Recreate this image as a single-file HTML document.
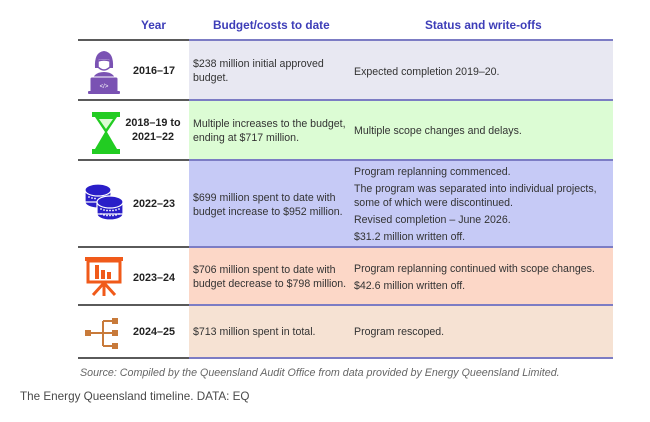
<!DOCTYPE html>
<html><head><meta charset="utf-8">
<style>
html,body{margin:0;padding:0;background:#fff;}
body{width:650px;height:422px;position:relative;overflow:hidden;font-family:"Liberation Sans",Arial,sans-serif;}
.a{position:absolute;white-space:nowrap;}
.h{font-weight:bold;font-size:11.8px;color:#3d3db8;}
.y{font-weight:bold;font-size:10.8px;color:#222;text-align:center;line-height:14px;}
.t{font-size:10.6px;color:#333;line-height:14px;}
.bg{position:absolute;left:189px;width:424px;}
.ll{position:absolute;left:78px;width:111px;height:2px;background:#5a5a5a;}
.lr{position:absolute;left:189px;width:424px;height:2px;background:#7c7cc4;}
</style></head><body>
<div class="a h" style="left:141px;top:18px;">Year</div>
<div class="a h" style="left:213px;top:18px;">Budget/costs to date</div>
<div class="a h" style="left:425px;top:18px;">Status and write-offs</div>

<div class="bg" style="top:40px;height:60px;background:#e8e8f2;"></div>
<div class="bg" style="top:100px;height:60px;background:#dcfcd4;"></div>
<div class="bg" style="top:160px;height:87px;background:#c6caf6;"></div>
<div class="bg" style="top:247px;height:58px;background:#fcd7c7;"></div>
<div class="bg" style="top:305px;height:53px;background:#f6e2d3;"></div>

<div class="ll" style="top:39px;"></div><div class="lr" style="top:39px;"></div>
<div class="ll" style="top:99px;"></div><div class="lr" style="top:99px;"></div>
<div class="ll" style="top:159px;"></div><div class="lr" style="top:159px;"></div>
<div class="ll" style="top:246px;"></div><div class="lr" style="top:246px;"></div>
<div class="ll" style="top:304px;"></div><div class="lr" style="top:304px;"></div>
<div class="ll" style="top:357px;"></div><div class="lr" style="top:357px;"></div>

<!-- Row 1 -->
<div class="a y" style="left:126px;top:64px;width:56px;">2016–17</div>
<div class="a t" style="left:193px;top:57px;">$238 million initial approved<br>budget.</div>
<div class="a t" style="left:354px;top:65px;">Expected completion 2019–20.</div>

<!-- Row 2 -->
<div class="a y" style="left:120px;top:116px;width:66px;">2018–19 to<br>2021–22</div>
<div class="a t" style="left:193px;top:117px;">Multiple increases to the budget,<br>ending at $717 million.</div>
<div class="a t" style="left:354px;top:124px;">Multiple scope changes and delays.</div>

<!-- Row 3 -->
<div class="a y" style="left:126px;top:197px;width:56px;">2022–23</div>
<div class="a t" style="left:193px;top:191px;">$699 million spent to date with<br>budget increase to $952 million.</div>
<div class="a t" style="left:354px;top:165px;">Program replanning commenced.</div>
<div class="a t" style="left:354px;top:182px;">The program was separated into individual projects,<br>some of which were discontinued.</div>
<div class="a t" style="left:354px;top:213px;">Revised completion – June 2026.</div>
<div class="a t" style="left:354px;top:230px;">$31.2 million written off.</div>

<!-- Row 4 -->
<div class="a y" style="left:126px;top:271px;width:56px;">2023–24</div>
<div class="a t" style="left:193px;top:263px;">$706 million spent to date with<br>budget decrease to $798 million.</div>
<div class="a t" style="left:354px;top:262px;">Program replanning continued with scope changes.</div>
<div class="a t" style="left:354px;top:279px;">$42.6 million written off.</div>

<!-- Row 5 -->
<div class="a y" style="left:126px;top:325px;width:56px;">2024–25</div>
<div class="a t" style="left:193px;top:325px;">$713 million spent in total.</div>
<div class="a t" style="left:354px;top:325px;">Program rescoped.</div>

<div class="a" style="left:80px;top:367px;font-size:10.7px;font-style:italic;color:#666;">Source: Compiled by the Queensland Audit Office from data provided by Energy Queensland Limited.</div>
<div class="a" style="left:20px;top:390px;font-size:11.7px;color:#4a4a4a;">The Energy Queensland timeline. DATA: EQ</div>

<!-- Icons -->
<svg class="a" style="left:84px;top:46px;" width="40" height="52" viewBox="0 0 40 52">
  <path d="M11 22 Q10 6 20 5 Q30 6 29 22 L26 22 L26 14 Q20 12 14 14 L14 22 Z" fill="#7a52b3"/>
  <path d="M14 15 Q20 13 26 15 L26 21 Q20 27 14 21 Z" fill="#fff" stroke="#7a52b3" stroke-width="1.5"/>
  <path d="M8 38 Q8 26 20 26 Q32 26 32 38 Z" fill="#7a52b3"/>
  <rect x="6" y="31" width="28" height="16" rx="2" fill="#7a52b3" stroke="#fff" stroke-width="1"/>
  <rect x="4" y="45" width="32" height="3" rx="1" fill="#7a52b3"/>
  <text x="20" y="42" font-size="6" fill="#fff" text-anchor="middle" font-family="Liberation Sans, sans-serif">&lt;/&gt;</text>
</svg>

<svg class="a" style="left:90px;top:110px;" width="32" height="46" viewBox="0 0 32 46">
  <rect x="2" y="2" width="28" height="5" fill="#22cc22"/>
  <rect x="2" y="39" width="28" height="5" fill="#22cc22"/>
  <path d="M5 7 L27 7 L17 22 L27 39 L5 39 L15 22 Z" fill="#22cc22"/>
  <path d="M9 9 L23 9 L16 19 Z" fill="#dcfcd4"/>
</svg>

<svg class="a" style="left:82px;top:182px;" width="46" height="42" viewBox="0 0 46 42">
  <g fill="#2a1ec8" stroke="#fff" stroke-width="1.2">
    <ellipse cx="16" cy="20" rx="13" ry="6"/>
    <rect x="3" y="8" width="26" height="12" />
    <ellipse cx="16" cy="8" rx="13" ry="6"/>
    <ellipse cx="28" cy="32" rx="13" ry="6"/>
    <rect x="15" y="20" width="26" height="12"/>
    <ellipse cx="28" cy="20" rx="13" ry="6"/>
  </g>
  <g fill="#fff">
    <circle cx="7" cy="15" r="0.9"/><circle cx="10" cy="16" r="0.9"/><circle cx="13" cy="16.5" r="0.9"/>
    <circle cx="19" cy="27" r="0.9"/><circle cx="22" cy="28" r="0.9"/><circle cx="25" cy="28.5" r="0.9"/><circle cx="28" cy="28.5" r="0.9"/><circle cx="31" cy="28.5" r="0.9"/><circle cx="34" cy="28" r="0.9"/><circle cx="37" cy="27" r="0.9"/>
    <circle cx="19" cy="32" r="0.9"/><circle cx="22" cy="33" r="0.9"/><circle cx="25" cy="33.5" r="0.9"/><circle cx="28" cy="33.5" r="0.9"/><circle cx="31" cy="33.5" r="0.9"/><circle cx="34" cy="33" r="0.9"/><circle cx="37" cy="32" r="0.9"/>
  </g>
</svg>

<svg class="a" style="left:84px;top:254px;" width="40" height="44" viewBox="0 0 40 44">
  <rect x="1" y="3" width="38" height="4" fill="#f05a1a"/>
  <rect x="4" y="7" width="32" height="21" fill="none" stroke="#f05a1a" stroke-width="3"/>
  <rect x="11" y="11" width="4" height="14" fill="#f05a1a"/>
  <rect x="17" y="16" width="4" height="9" fill="#f05a1a"/>
  <rect x="23" y="18" width="4" height="7" fill="#f05a1a"/>
  <line x1="20" y1="28" x2="20" y2="42" stroke="#f05a1a" stroke-width="3"/>
  <line x1="19" y1="30" x2="9" y2="41" stroke="#f05a1a" stroke-width="3"/>
  <line x1="21" y1="30" x2="31" y2="41" stroke="#f05a1a" stroke-width="3"/>
</svg>

<svg class="a" style="left:84px;top:316px;" width="38" height="36" viewBox="0 0 38 36">
  <rect x="1" y="14" width="6" height="6" fill="#c87a3a"/>
  <rect x="28" y="2" width="6" height="6" fill="#c87a3a"/>
  <rect x="28" y="14" width="6" height="6" fill="#c87a3a"/>
  <rect x="28" y="27" width="6" height="6" fill="#c87a3a"/>
  <path d="M7 17 L28 17 M19 5 L28 5 M19 30 L28 30 M19 5 L19 30" stroke="#c87a3a" stroke-width="2" fill="none"/>
</svg>
</body></html>
